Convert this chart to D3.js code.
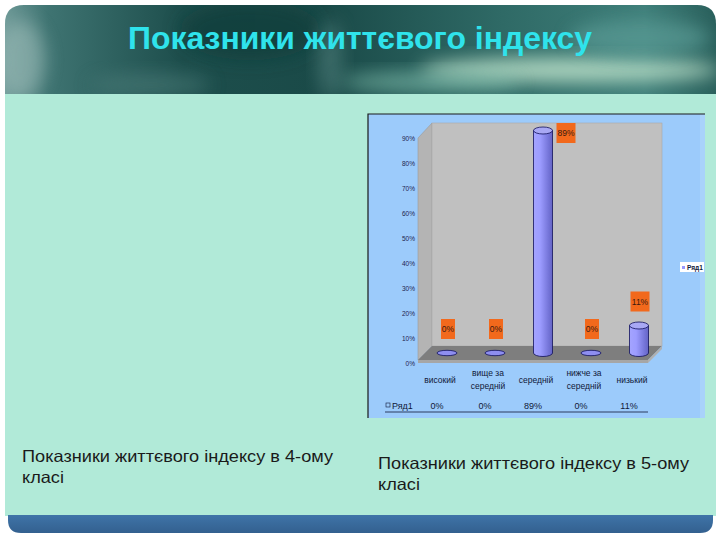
<!DOCTYPE html>
<html><head><meta charset="utf-8">
<script src="https://cdn.jsdelivr.net/npm/d3@7"></script>
<style>body{margin:0;background:#fff}svg{display:block}</style>
</head><body>
<svg id="c" width="720" height="540"></svg>
<script>
const titleText = "Показники життєвого індексу";
const captionLeft = ["Показники життєвого індексу в 4-ому", "класі"];
const captionRight = ["Показники життєвого індексу в 5-ому", "класі"];
const categories = ["високий", "вище за середній", "середній", "нижче за середній", "низький"];
const values = [0, 0, 0.89, 0, 0.11];
const valueLabels = ["0%", "0%", "89%", "0%", "11%"];
const yTicks = [0, 0.1, 0.2, 0.3, 0.4, 0.5, 0.6, 0.7, 0.8, 0.9];
const seriesName = "Ряд1";

const svg = d3.select("#c");
const defs = svg.append("defs");

// ---------- slide background ----------
const hg = defs.append("linearGradient").attr("id","hdr").attr("x1",0).attr("y1",0).attr("x2",1).attr("y2",0);
[[0,"#6c9896"],[0.06,"#3f7472"],[0.25,"#1d4e4c"],[0.45,"#1a4a48"],[0.7,"#2f6a66"],[0.9,"#3f7f7a"],[1,"#2a605c"]]
  .forEach(([o,c])=>hg.append("stop").attr("offset",o).attr("stop-color",c));
defs.append("filter").attr("id","blur").attr("x","-50%").attr("y","-50%").attr("width","200%").attr("height","200%")
  .append("feGaussianBlur").attr("stdDeviation",9);
defs.append("clipPath").attr("id","hclip").append("path")
  .attr("d","M5,96 L5,24 Q5,5 24,5 L697,5 Q716,5 716,24 L716,96 Z");

const hdr = svg.append("g").attr("clip-path","url(#hclip)");
hdr.append("rect").attr("x",5).attr("y",5).attr("width",711).attr("height",91).attr("fill","url(#hdr)");
const glows = [
  {cx:570,cy:70,rx:150,ry:12,c:"#c0e4cc",o:0.85},
  {cx:430,cy:82,rx:90,ry:10,c:"#8ccab8",o:0.6},
  {cx:640,cy:38,rx:70,ry:18,c:"#5c9c96",o:0.7},
  {cx:20,cy:60,rx:25,ry:40,c:"#9cbcb8",o:0.6},
  {cx:250,cy:30,rx:70,ry:30,c:"#0f3a38",o:0.6},
  {cx:150,cy:85,rx:60,ry:12,c:"#4c7c78",o:0.6},
  {cx:330,cy:60,rx:12,ry:40,c:"#5e8e8a",o:0.5}
];
hdr.selectAll("ellipse.g").data(glows).join("ellipse")
  .attr("cx",d=>d.cx).attr("cy",d=>d.cy).attr("rx",d=>d.rx).attr("ry",d=>d.ry)
  .attr("fill",d=>d.c).attr("opacity",d=>d.o).attr("filter","url(#blur)");

svg.append("text").attr("x",128).attr("y",49)
  .attr("font-family","'Liberation Sans',Arial,sans-serif")
  .attr("font-size",31).attr("font-weight","bold").attr("fill","#2fe3ec")
  .attr("textLength",464).attr("lengthAdjust","spacingAndGlyphs")
  .text(titleText);

// mint panel
svg.append("rect").attr("x",5).attr("y",94).attr("width",711).attr("height",422).attr("fill","#b1ead8");
// bottom band
const bg = defs.append("linearGradient").attr("id","band").attr("x1",0).attr("y1",0).attr("x2",0).attr("y2",1);
bg.append("stop").attr("offset",0).attr("stop-color","#3f74a8");
bg.append("stop").attr("offset",1).attr("stop-color","#33608f");
svg.append("path").attr("d","M8,515 L713,515 L713,520 Q713,533 700,533 L21,533 Q8,533 8,520 Z").attr("fill","url(#band)");

// captions
function caption(lines, x, y0) {
  lines.forEach((l,i)=>{
    const t = svg.append("text").attr("font-family","'Liberation Sans',Arial,sans-serif")
      .attr("font-size",16.5).attr("fill","#1a1a1a").attr("x",x).attr("y",y0+i*20.5).text(l);
    if (i === 0) t.attr("textLength",311).attr("lengthAdjust","spacingAndGlyphs");
    else t.attr("textLength",42).attr("lengthAdjust","spacingAndGlyphs");
  });
}
caption(captionLeft, 22, 462);
caption(captionRight, 378, 469);

// ---------- embedded chart ----------
const ch = svg.append("g");
ch.append("rect").attr("x",368).attr("y",114).attr("width",337).attr("height",304).attr("fill","#9ccbfb");
ch.append("rect").attr("x",700).attr("y",114).attr("width",5).attr("height",304).attr("fill","#a9d2fb");
ch.append("path").attr("d","M368,418 L368,114 L705,114").attr("fill","none").attr("stroke","#1a1a1a").attr("stroke-width",1.2);

const dx = 14, dy = -12;       // depth offset of back wall
const y = d3.scaleLinear().domain([0, 0.9]).range([363, 138]);
const x = d3.scaleBand().domain(categories).range([416, 656]).padding(0);
const x0 = 418, x1 = 648;

// walls
ch.append("path").attr("d",`M${x0},${y(0.9)+dy+12} L${x0+dx},${y(0.9)+dy-3} L${x0+dx},${y(0)+dy-5} L${x0},${y(0)-3} Z`)
  .attr("fill","#b4b4b4").attr("stroke","#9a9a9a").attr("stroke-width",0.6);
ch.append("rect").attr("x",x0+dx).attr("y",y(0.9)+dy-3).attr("width",x1-x0).attr("height",y(0)-y(0.9)-2)
  .attr("fill","#c0c0c0").attr("stroke","#a8a8a8").attr("stroke-width",0.6);
// floor
ch.append("path").attr("d",`M${x0+dx},${y(0)+dy-5} L${x1+dx},${y(0)+dy-5} L${x1},${y(0)-3} L${x0},${y(0)-3} Z`)
  .attr("fill","#7e7e7e");
ch.append("path").attr("d",`M${x0},${y(0)-3} L${x1},${y(0)-3} L${x1},${y(0)} L${x0},${y(0)} Z`).attr("fill","#a6a6a6");
ch.append("path").attr("d",`M${x1},${y(0)-3} L${x1+dx},${y(0)+dy-5} L${x1+dx},${y(0)+dy-2} L${x1},${y(0)} Z`).attr("fill","#b0b0b0");

// y axis labels
const yAxis = d3.axisLeft(y).tickValues(yTicks).tickSize(0).tickPadding(0).tickFormat(d3.format(".0%"));
const ya = ch.append("g").attr("transform","translate(415,0)").call(yAxis);
ya.select(".domain").remove();
ya.selectAll("text").attr("font-family","'Liberation Sans',Arial,sans-serif").attr("font-size",6.5).attr("fill","#1c2450");

// cylinders
const cg = defs.append("linearGradient").attr("id","cyl").attr("x1",0).attr("y1",0).attr("x2",1).attr("y2",0);
[[0,"#a4a4ff"],[0.35,"#9c9cff"],[0.8,"#7474d8"],[1,"#6464c4"]].forEach(([o,c])=>cg.append("stop").attr("offset",o).attr("stop-color",c));
const cdx = 7, cdy = -10, r = 9.5, ry = 3.5;
const bars = ch.append("g");
categories.forEach((c,i)=>{
  const v = values[i];
  const cx = x(c) + x.bandwidth()/2 + cdx;
  const yb = y(0) + cdy, yt = y(v) + cdy;
  if (v > 0) {
    bars.append("path")
      .attr("d",`M${cx-r},${yt} L${cx-r},${yb} A${r},${ry} 0 0 0 ${cx+r},${yb} L${cx+r},${yt} Z`)
      .attr("fill","url(#cyl)").attr("stroke","#10105a").attr("stroke-width",0.8);
    bars.append("ellipse").attr("cx",cx).attr("cy",yt).attr("rx",r).attr("ry",ry)
      .attr("fill","#a8a8f4").attr("stroke","#10105a").attr("stroke-width",0.8);
  } else {
    bars.append("ellipse").attr("cx",cx).attr("cy",yb).attr("rx",r+0.5).attr("ry",ry-0.8)
      .attr("fill","#8e8ef0").attr("stroke","#10105a").attr("stroke-width",0.8);
  }
  // data label
  let ly = yt - 24, lx = cx + 1;
  if (ly < 133) { ly = 133; lx = cx + 23; }
  const txt = valueLabels[i];
  const w = txt.length > 2 ? 19 : 14;
  bars.append("rect").attr("x",lx-w/2).attr("y",ly-10).attr("width",w).attr("height",20).attr("fill","#f2691c");
  bars.append("text").attr("x",lx).attr("y",ly+3).attr("text-anchor","middle")
    .attr("font-family","'Liberation Sans',Arial,sans-serif").attr("font-size",8.5).attr("fill","#3a1a10").text(txt);
});

// category labels
const cat = ch.append("g").attr("font-family","'Liberation Sans',Arial,sans-serif").attr("font-size",8.5).attr("fill","#101838");
categories.forEach(c=>{
  const cx = x(c) + x.bandwidth()/2;
  const parts = c.includes(" за ") ? [c.split(" за ")[0]+" за", c.split(" за ")[1]] : [c];
  const t = cat.append("text").attr("text-anchor","middle");
  if (parts.length === 1) t.append("tspan").attr("x",cx).attr("y",383).text(parts[0]);
  else parts.forEach((p,j)=>t.append("tspan").attr("x",cx).attr("y",376+j*13).text(p));
});

// data table row
const tab = ch.append("g").attr("font-family","'Liberation Sans',Arial,sans-serif").attr("font-size",9).attr("fill","#101838");
tab.append("rect").attr("x",386).attr("y",403).attr("width",4).attr("height",4).attr("fill","none").attr("stroke","#101838").attr("stroke-width",0.6);
tab.append("text").attr("x",392).attr("y",409).text(seriesName);
categories.forEach((c,i)=>{
  tab.append("text").attr("x",x(c)+x.bandwidth()/2-3).attr("y",409).attr("text-anchor","middle").text(valueLabels[i]);
});
ch.append("line").attr("x1",385).attr("x2",648).attr("y1",412).attr("y2",412).attr("stroke","#101838").attr("stroke-width",0.8);

// legend
const lg = ch.append("g");
lg.append("rect").attr("x",680).attr("y",262).attr("width",24).attr("height",10).attr("fill","#ffffff");
lg.append("rect").attr("x",682).attr("y",266).attr("width",3).attr("height",3).attr("fill","#9999ff");
lg.append("text").attr("x",687).attr("y",270).attr("font-family","'Liberation Sans',Arial,sans-serif")
  .attr("font-size",6.5).attr("font-weight","bold").attr("fill","#101838").text(seriesName);
</script>
</body></html>
